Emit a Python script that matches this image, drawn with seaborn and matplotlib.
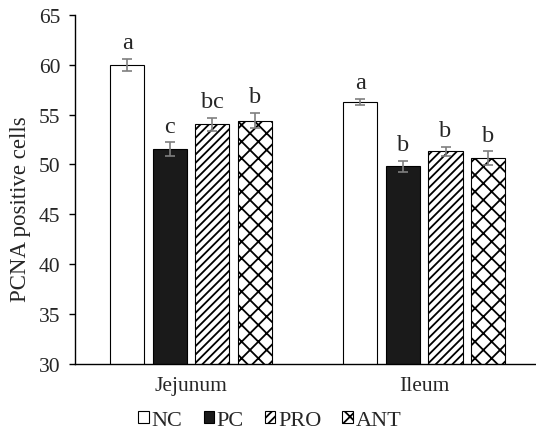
import numpy as np
import pandas as pd
import matplotlib
matplotlib.use("Agg")
import matplotlib.pyplot as plt
import seaborn as sns

# datos
segments = ["Jejunum", "Ileum"]
groups = ["NC", "PC", "PRO", "ANT"]
jejunum = [60.0, 51.5, 54.0, 54.4]
ileum = [56.3, 49.8, 51.3, 50.6]
jejunum_se = [0.6, 0.7, 0.7, 0.75]
ileum_se = [0.3, 0.55, 0.45, 0.7]
jejunum_letters = ["a", "c", "bc", "b"]
ileum_letters = ["a", "b", "b", "b"]

df = pd.DataFrame({
    "segment": np.repeat(segments, len(groups)),
    "group": groups * 2,
    "value": jejunum + ileum,
    "se": jejunum_se + ileum_se,
    "letter": jejunum_letters + ileum_letters,
})

sns.set_style("white")
plt.rcParams["font.family"] = ["Liberation Serif", "DejaVu Serif"]
plt.rcParams["hatch.linewidth"] = 1.3

fig = plt.figure(figsize=(5.36, 4.39), dpi=100)
ax = fig.add_axes([0.139, 0.169, 0.870, 0.795])

palette = {"NC": "white", "PC": "#1a1a1a", "PRO": "white", "ANT": "white"}
sns.barplot(data=df, x="segment", y="value", hue="group", order=segments,
            hue_order=groups, palette=palette, width=0.73, gap=0.2,
            errorbar=None, edgecolor="black", linewidth=0.8, ax=ax)

hatches = {"NC": "", "PC": "", "PRO": "////", "ANT": "xx"}
for cont, g in zip(ax.containers, groups):
    sub = df[df["group"] == g].set_index("segment").loc[segments]
    for bar, (_, row) in zip(cont, sub.iterrows()):
        bar.set_hatch(hatches[g])
        cx = bar.get_x() + bar.get_width() / 2
        ax.errorbar(cx, row["value"], yerr=row["se"], color="#7f7f7f",
                    capsize=3.8, elinewidth=1.2, capthick=1.2, fmt="none")
        ax.annotate(row["letter"], (cx, row["value"] + row["se"]),
                    xytext=(0, 4), textcoords="offset points",
                    ha="center", va="bottom", fontsize=17.5)

ax.set_ylim(30, 65)
ax.set_yticks(range(30, 66, 5))
ax.set_xlim(-0.5, 1.5)
ax.set_xticks([-0.5, 0.5, 1.5], minor=False)
ax.set_xticklabels([])
ax.set_xticks([0, 1], minor=True)
ax.set_xticklabels(segments, minor=True)
ax.tick_params(axis="x", which="major", direction="out", length=5, width=1, color="black")
ax.tick_params(axis="x", which="minor", length=0, pad=9, labelsize=15.5)
ax.tick_params(axis="y", direction="out", length=4, width=1, color="black",
               labelsize=15.5, left=True, pad=6)
ax.set_ylabel("PCNA positive cells", fontsize=16.5)
ax.yaxis.set_label_coords(-0.093, 0.447)
ax.set_xlabel("")

for s in ["top", "right"]:
    ax.spines[s].set_visible(False)
for s in ["left", "bottom"]:
    ax.spines[s].set_color("black")
    ax.spines[s].set_linewidth(1)

handles, labels = ax.get_legend_handles_labels()
for h, g in zip(handles, groups):
    h.set_hatch({"NC": "", "PC": "", "PRO": "////", "ANT": "xx"}[g])
    h.set_edgecolor("black")
    h.set_linewidth(0.8)
ax.legend(handles, labels, loc="center", bbox_to_anchor=(0.419, -0.163),
          ncol=4, frameon=False, fontsize=16, handlelength=0.47,
          handleheight=0.47, handletextpad=0.12, columnspacing=0.95)

fig.savefig("out.png", dpi=100)
